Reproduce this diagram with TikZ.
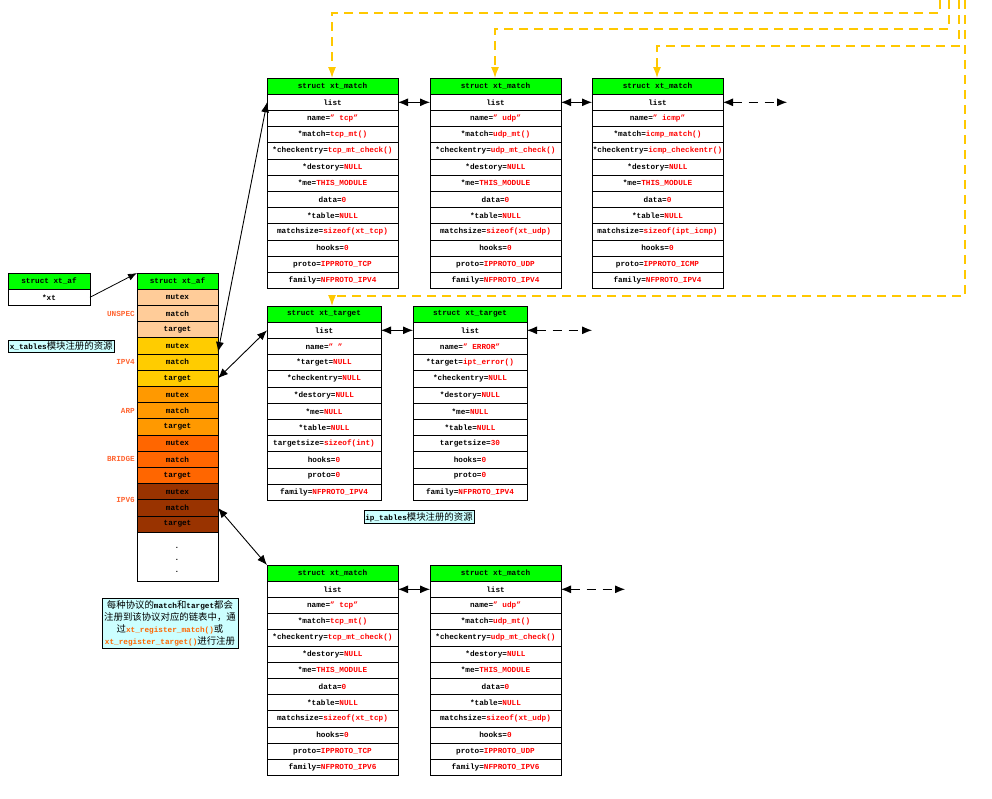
\documentclass[tikz,border=0pt]{standalone}
\usepackage{fontspec}
\setmonofont{Liberation Mono}
\newfontfamily\cjk{Noto Sans CJK SC}
\usetikzlibrary{arrows.meta}
\definecolor{hdrgreen}{HTML}{00FF00}
\definecolor{dashy}{HTML}{FFC800}
\definecolor{peach}{HTML}{FFCC99}
\definecolor{gold}{HTML}{FFCC00}
\definecolor{orng}{HTML}{FF9900}
\definecolor{dorng}{HTML}{FF6600}
\definecolor{brwn}{HTML}{993300}
\definecolor{lbl}{HTML}{FF6633}
\definecolor{notebg}{HTML}{CCFFFF}
\definecolor{noteor}{HTML}{FF6600}
\newcommand\R[1]{\textcolor{red}{#1}}
\newcommand\Or[1]{\textcolor{noteor}{#1}}
\newcommand\zh[1]{{\cjk\mdseries\fontsize{9.4}{12}\selectfont #1}}
\tikzset{
  cell/.style={draw, line width=0.8pt, inner sep=0pt, outer sep=0pt,
    minimum height=16.2pt, font=\ttfamily\bfseries\fontsize{7.7}{8}\selectfont},
  hdr/.style={cell, fill=hdrgreen},
  dbl/.style={{Latex[length=10pt,width=8pt]}-{Latex[length=10pt,width=8pt]}, line width=0.9pt},
  ddbl/.style={dbl, dash pattern=on 9pt off 7pt},
  yl/.style={draw=dashy, line width=1.2pt, dash pattern=on 9pt off 6pt,
    -{Latex[length=11pt,width=8pt,fill=dashy]}},
  note/.style={draw, fill=notebg, line width=0.6pt, inner sep=1.5pt,
    font=\ttfamily\bfseries\fontsize{7.7}{12}\selectfont},
  proto/.style={text=lbl, inner sep=0pt, anchor=east,
    font=\ttfamily\bfseries\fontsize{7.7}{8}\selectfont}
}
\newcommand{\structbox}[6]{%
  \node[hdr, minimum width=#4pt, anchor=north west] (#1-0) at (#2,#3) {#5};
  \foreach \t [count=\i, remember=\i as \j (initially 0)] in {#6} {
    \node[cell, minimum width=#4pt, anchor=north] (#1-\i) at (#1-\j.south) {\t};
  }%
}
\begin{document}
\begin{tikzpicture}[x=1pt,y=-1pt]
\useasboundingbox (0,0) rectangle (992,798);

% ---- top row: xt_match ----
\structbox{m1}{267}{78}{131}{struct xt\_match}{list,name=\R{” tcp”},*match=\R{tcp\_mt()},*checkentry=\R{tcp\_mt\_check()},*destory=\R{NULL},*me=\R{THIS\_MODULE},data=\R{0},*table=\R{NULL},matchsize=\R{sizeof(xt\_tcp)},hooks=\R{0},proto=\R{IPPROTO\_TCP},family=\R{NFPROTO\_IPV4}}
\structbox{m2}{430}{78}{131}{struct xt\_match}{list,name=\R{” udp”},*match=\R{udp\_mt()},*checkentry=\R{udp\_mt\_check()},*destory=\R{NULL},*me=\R{THIS\_MODULE},data=\R{0},*table=\R{NULL},matchsize=\R{sizeof(xt\_udp)},hooks=\R{0},proto=\R{IPPROTO\_UDP},family=\R{NFPROTO\_IPV4}}
\structbox{m3}{592}{78}{131}{struct xt\_match}{list,name=\R{” icmp”},*match=\R{icmp\_match()},*checkentry=\R{icmp\_checkentr()},*destory=\R{NULL},*me=\R{THIS\_MODULE},data=\R{0},*table=\R{NULL},matchsize=\R{sizeof(ipt\_icmp)},hooks=\R{0},proto=\R{IPPROTO\_ICMP},family=\R{NFPROTO\_IPV4}}

% ---- middle row: xt_target ----
\structbox{t1}{267}{306}{114}{struct xt\_target}{list,name=\R{” ”},*target=\R{NULL},*checkentry=\R{NULL},*destory=\R{NULL},*me=\R{NULL},*table=\R{NULL},targetsize=\R{sizeof(int)},hooks=\R{0},proto=\R{0},family=\R{NFPROTO\_IPV4}}
\structbox{t2}{413}{306}{114}{struct xt\_target}{list,name=\R{” ERROR”},*target=\R{ipt\_error()},*checkentry=\R{NULL},*destory=\R{NULL},*me=\R{NULL},*table=\R{NULL},targetsize=\R{30},hooks=\R{0},proto=\R{0},family=\R{NFPROTO\_IPV4}}

% ---- bottom row: xt_match IPV6 ----
\structbox{b1}{267}{565}{131}{struct xt\_match}{list,name=\R{” tcp”},*match=\R{tcp\_mt()},*checkentry=\R{tcp\_mt\_check()},*destory=\R{NULL},*me=\R{THIS\_MODULE},data=\R{0},*table=\R{NULL},matchsize=\R{sizeof(xt\_tcp)},hooks=\R{0},proto=\R{IPPROTO\_TCP},family=\R{NFPROTO\_IPV6}}
\structbox{b2}{430}{565}{131}{struct xt\_match}{list,name=\R{” udp”},*match=\R{udp\_mt()},*checkentry=\R{udp\_mt\_check()},*destory=\R{NULL},*me=\R{THIS\_MODULE},data=\R{0},*table=\R{NULL},matchsize=\R{sizeof(xt\_udp)},hooks=\R{0},proto=\R{IPPROTO\_UDP},family=\R{NFPROTO\_IPV6}}

% ---- small xt_af ----
\structbox{af}{8}{273}{82}{struct xt\_af}{*xt}

% ---- big xt_af array ----
\node[hdr, minimum width=81pt, anchor=north west] (big-0) at (137,273) {struct xt\_af};
\foreach \t/\c [count=\i, remember=\i as \j (initially 0)] in
  {mutex/peach,match/peach,target/peach,mutex/gold,match/gold,target/gold,
   mutex/orng,match/orng,target/orng,mutex/dorng,match/dorng,target/dorng,
   mutex/brwn,match/brwn,target/brwn} {
  \node[cell, fill=\c, minimum width=81pt, anchor=north] (big-\i) at (big-\j.south) {\t};
}
\node[cell, minimum width=81pt, minimum height=49pt, anchor=north] (big-w) at (big-15.south) {};
\node[cell, draw=none, anchor=base] (dot1) at (177,548) {.};
\node[cell, draw=none, anchor=base] (dot2) at (177,560) {.};
\node[cell, draw=none, anchor=base] (dot3) at (177,572) {.};

% protocol labels
\node[proto] (lunspec) at ([xshift=-2pt]big-2.west) {UNSPEC};
\node[proto] (lipv4) at ([xshift=-2pt]big-5.west) {IPV4};
\node[proto] (larp) at ([xshift=-2pt]big-8.west) {ARP};
\node[proto] (lbridge) at ([xshift=-2pt]big-11.west) {BRIDGE};
\node[proto] (lipv6) at ([xshift=-2pt]big-14.north west) {IPV6};

% notes
\node[note, anchor=west] (n1) at (8,346) {x\_tables\zh{模块注册的资源}};
\node[note] (n2) at (419,517) {ip\_tables\zh{模块注册的资源}};
\node[note, align=center, inner sep=2pt] (n3) at (170,623)
  {\zh{每种协议的}match\zh{和}target\zh{都会}\\
   \zh{注册到该协议对应的链表中，通}\\
   \zh{过}\Or{xt\_register\_match()}\zh{或}\\
   \Or{xt\_register\_target()}\zh{进行注册}};

% ---- connectors ----
\draw[-{Latex[length=9pt,width=7pt]}, line width=0.8pt] (af-1.east) -- (big-0.north west);
\draw[dbl] ([yshift=2pt]big-5.north east) -- (m1-1.west);
\draw[dbl] (big-6.east) -- (t1-1.west);
\draw[dbl] (big-14.east) -- (b1-0.north west);

\draw[dbl] (m1-1.east) -- (m2-1.west);
\draw[dbl] (m2-1.east) -- (m3-1.west);
\coordinate (m3end) at ([xshift=64pt]m3-1.east);
\draw[ddbl] (m3-1.east) -- (m3end);

\draw[dbl] (t1-1.east) -- (t2-1.west);
\coordinate (t2end) at ([xshift=65pt]t2-1.east);
\draw[ddbl] (t2-1.east) -- (t2end);

\draw[dbl] (b1-1.east) -- (b2-1.west);
\coordinate (b2end) at ([xshift=64pt]b2-1.east);
\draw[ddbl] (b2-1.east) -- (b2end);

% yellow dashed links
\coordinate (y1) at (940,0);
\coordinate (y2) at (949,0);
\coordinate (y3) at (959,0);
\coordinate (y4) at (965,0);
\coordinate (m1in) at ([xshift=-0.5pt]m1-0.north);
\coordinate (m2in) at ([xshift=-0.5pt]m2-0.north);
\coordinate (m3in) at ([xshift=-0.5pt]m3-0.north);
\draw[yl] (y1) -- (940,13) -| (m1in);
\draw[yl] (y2) -- (949,29) -| (m2in);
\draw[yl] (y3) -- (959,46) -| (m3in);
\draw[yl] (y4) -- (965,296) -| (t1-0.north -| m1in);
\end{tikzpicture}
\end{document}
